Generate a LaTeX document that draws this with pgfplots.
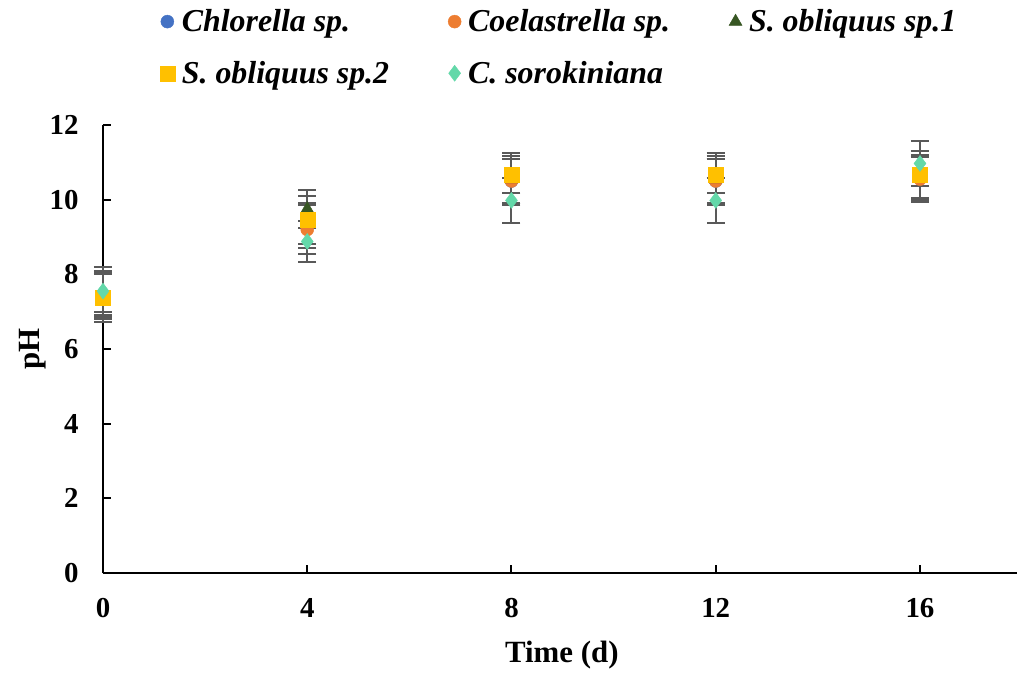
\documentclass[border=0pt]{standalone}
\usepackage{fontspec}
\setmainfont{Liberation Serif}
\usepackage{pgfplots}
\pgfplotsset{compat=1.18}
\definecolor{cblue}{HTML}{4472C4}
\definecolor{corange}{HTML}{ED7D31}
\definecolor{cgreen}{HTML}{375623}
\definecolor{cyellow}{HTML}{FFC000}
\definecolor{cmint}{HTML}{63D8A9}
\definecolor{cerr}{HTML}{595959}
\newcommand{\bigfont}{\fontsize{29}{34}\selectfont\bfseries}
\newcommand{\labfont}{\fontsize{31}{36}\selectfont\bfseries}
\newcommand{\legfont}{\fontsize{32}{37}\selectfont\bfseries\itshape}
\pgfplotsset{
  errstyle/.style={
    error bars/.cd, y dir=both, y explicit,
    error bar style={line width=2bp, color=cerr},
    error mark options={rotate=90, mark size=9bp, line width=2bp, color=cerr}
  }
}
\begin{document}
\begin{tikzpicture}
\begin{axis}[
  at={(0,0)}, anchor=south west,
  scale only axis, width=914bp, height=448bp,
  xmin=0, xmax=17.9, ymin=0, ymax=12,
  axis x line*=bottom, axis y line*=left,
  axis line style={line width=2.2bp, black, -},
  xtick={0,4,8,12,16}, ytick={0,2,4,6,8,10,12},
  tick align=inside, major tick length=8bp,
  tick style={line width=2bp, black},
  /pgf/number format/assume math mode=true,
  ticklabel style={font=\bigfont},
  yticklabel style={xshift=-21bp},
  xticklabel style={yshift=-22bp},
  label style={font=\labfont},
  xlabel={Time (d)}, ylabel={pH},
  xlabel style={at={(axis description cs:0.502,-0.183)}, anchor=center},
  ylabel style={at={(axis description cs:-0.077,0.5)}, anchor=center, rotate=0},
  clip=false,
  legend columns=3,
  legend style={at={(axis description cs:0.062,1.262)}, anchor=north west,
    draw=none, fill=none, inner sep=0pt,
    font=\legfont,
    row sep=24bp,
    nodes={inner xsep=7bp},
    /tikz/every even column/.append style={column sep=52bp}},
  legend cell align=left,
]
\addplot[only marks, mark=*, mark size=6.5bp, color=cblue, mark options={fill=cblue, draw=none}, errstyle]
  table[x=x, y=y, y error=e]{
x y e
0 7.45 0.55
4 9.3 0.6
8 10.5 0.6
12 10.5 0.6
16 10.6 0.6
};
\addlegendentry{Chlorella sp.}
\addplot[only marks, mark=*, mark size=6.5bp, color=corange, mark options={fill=corange, draw=none}, errstyle]
  table[x=x, y=y, y error=e]{
x y e
0 7.45 0.6
4 9.2 0.65
8 10.5 0.6
12 10.5 0.6
16 10.55 0.6
};
\addlegendentry{Coelastrella sp.}
\addplot[only marks, mark=triangle*, mark size=7.5bp, color=cgreen, mark options={fill=cgreen, draw=none}, errstyle]
  table[x=x, y=y, y error=e]{
x y e
0 7.5 0.7
4 9.75 0.5
8 10.55 0.7
12 10.55 0.7
16 10.6 0.55
};
\addlegendentry{S. obliquus sp.1}
\addplot[only marks, mark=square*, mark size=7.5bp, color=cyellow, mark options={fill=cyellow, draw=none}, errstyle]
  table[x=x, y=y, y error=e]{
x y e
0 7.37 0.65
4 9.46 0.65
8 10.67 0.5
12 10.67 0.5
16 10.66 0.65
};
\addlegendentry{S. obliquus sp.2}
\addplot[only marks, mark=diamond*, mark size=8bp, color=cmint, mark options={fill=cmint, draw=none}, errstyle]
  table[x=x, y=y, y error=e]{
x y e
0 7.55 0.55
4 8.88 0.55
8 9.98 0.6
12 9.98 0.6
16 10.97 0.6
};
\addlegendentry{C. sorokiniana}
\end{axis}
\pgfresetboundingbox
\path[use as bounding box] (-103bp,-102bp) rectangle (914bp,573bp);
\end{tikzpicture}
\end{document}
